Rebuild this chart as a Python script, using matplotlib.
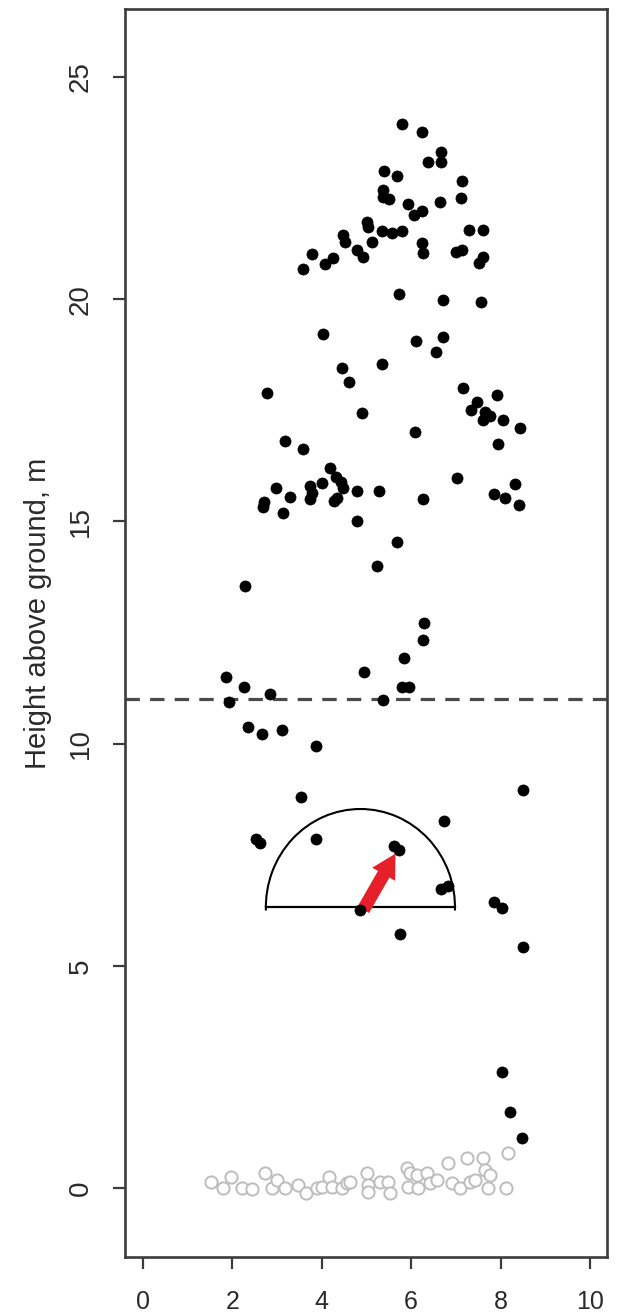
import matplotlib
matplotlib.use("Agg")
import matplotlib.pyplot as plt
from matplotlib.patches import Arc, FancyArrowPatch

# ---- data ----
tree_x = [5.79, 6.24, 6.67, 6.67, 6.38, 5.39, 5.68, 7.14, 7.11, 5.37, 5.37, 5.50, 5.93, 6.24,
          6.06, 6.64, 5.35, 5.57, 5.79, 5.12, 7.29, 7.61, 6.24, 6.26, 7.00, 7.14, 7.61, 7.52,
          5.73, 6.71, 7.56, 6.11, 6.71, 6.55, 5.01, 5.03, 4.47, 4.52, 4.79, 4.92, 3.78, 4.25,
          4.07, 3.58, 4.03, 4.45, 4.61, 5.35, 2.77, 4.90, 3.18, 3.58, 4.18, 2.98, 3.29, 2.71,
          2.68, 3.13, 3.74, 3.78, 3.74, 4.00, 4.32, 4.43, 4.47, 4.27, 4.34, 4.79, 5.28, 4.79,
          5.23, 2.28, 7.16, 7.92, 7.47, 7.34, 7.65, 7.76, 7.61, 8.05, 8.43, 7.94, 6.09, 7.02,
          6.26, 8.32, 7.85, 8.10, 8.41, 5.68, 4.94, 1.86, 2.26, 2.84, 1.92, 2.35, 2.66, 3.11,
          3.87, 6.29, 6.26, 5.84, 5.80, 5.95, 5.37, 3.53, 8.50, 2.53, 2.62, 3.87, 6.73, 5.62,
          5.73, 6.67, 6.82, 7.85, 8.03, 4.85, 5.75, 8.50, 8.03, 8.21, 8.48]
tree_y = [23.94, 23.76, 23.31, 23.09, 23.09, 22.88, 22.77, 22.66, 22.28, 22.46, 22.30, 22.25,
          22.14, 21.98, 21.89, 22.19, 21.53, 21.49, 21.53, 21.29, 21.56, 21.56, 21.26, 21.04,
          21.06, 21.11, 20.95, 20.81, 20.12, 19.98, 19.94, 19.06, 19.15, 18.81, 21.74, 21.62,
          21.44, 21.29, 21.11, 20.95, 21.02, 20.93, 20.79, 20.68, 19.22, 18.45, 18.14, 18.54,
          17.89, 17.44, 16.81, 16.63, 16.20, 15.75, 15.55, 15.44, 15.32, 15.19, 15.80, 15.64,
          15.50, 15.86, 16.00, 15.89, 15.75, 15.46, 15.53, 15.68, 15.68, 15.01, 14.00, 13.55,
          18.00, 17.84, 17.69, 17.51, 17.46, 17.37, 17.28, 17.28, 17.10, 16.74, 17.01, 15.98,
          15.50, 15.84, 15.62, 15.53, 15.37, 14.54, 11.61, 11.50, 11.27, 11.12, 10.94, 10.37,
          10.22, 10.31, 9.95, 12.71, 12.33, 11.93, 11.27, 11.27, 10.98, 8.80, 8.96, 7.85,
          7.76, 7.85, 8.26, 7.69, 7.60, 6.73, 6.80, 6.44, 6.30, 6.26, 5.72, 5.42, 2.61,
          1.71, 1.13]

ground_x = [1.52, 1.79, 1.97, 2.21, 2.44, 2.73, 2.89, 3.00, 3.18, 3.47, 3.65, 3.89, 4.00,
            4.16, 4.23, 4.45, 4.56, 4.63, 5.01, 5.03, 5.03, 5.30, 5.48, 5.53, 5.91, 5.97,
            5.93, 6.13, 6.15, 6.35, 6.42, 6.58, 6.82, 6.91, 7.09, 7.25, 7.32, 7.43, 7.61,
            7.65, 7.76, 7.72, 8.17, 8.12]
ground_y = [0.14, 0.00, 0.25, 0.00, -0.02, 0.34, 0.00, 0.18, 0.00, 0.07, -0.11, 0.00, 0.02,
            0.25, 0.02, 0.00, 0.11, 0.14, 0.34, 0.07, -0.09, 0.14, 0.14, -0.11, 0.45, 0.34,
            0.02, 0.29, 0.00, 0.34, 0.11, 0.18, 0.56, 0.11, 0.00, 0.68, 0.14, 0.18, 0.68,
            0.41, 0.29, 0.00, 0.79, 0.00]

threshold = 11.0
arc_center = (4.865, 6.32)
arc_radius = (2.115, 2.21)
arrow_start = (4.90, 6.21)
arrow_end = (5.68, 7.58)

x_ticks = [0, 2, 4, 6, 8, 10]
y_ticks = [0, 5, 10, 15, 20, 25]
y_label = "Height above ground, m"

# ---- figure ----
fig = plt.figure(figsize=(6.17, 13.16), dpi=100)
ax = fig.add_axes([0.2026, 0.0448, 0.7812, 0.9484])
ax.set_xlim(-0.4, 10.38)
ax.set_ylim(-1.55, 26.53)

txt_color = "#2a2a2a"
spine_color = "#3c3c3c"
font = "Liberation Sans"

ax.plot(ground_x, ground_y, linestyle="none", marker="o", markersize=8.8,
        markerfacecolor="white", markeredgecolor="#bdbdbd", markeredgewidth=1.4, zorder=2)

ax.axhline(threshold, color="#4a4a4a", linewidth=2.3, dashes=(4.5, 3.2), zorder=1)

arc = Arc(arc_center, 2 * arc_radius[0], 2 * arc_radius[1], theta1=-2, theta2=182,
          color="black", linewidth=1.5, zorder=3)
ax.add_patch(arc)
ax.plot([arc_center[0] - arc_radius[0], arc_center[0] + arc_radius[0]],
        [arc_center[1], arc_center[1]], color="black", linewidth=1.6, zorder=3)

arrow = FancyArrowPatch(arrow_start, arrow_end,
                        arrowstyle="simple,head_length=0.9,head_width=1.0,tail_width=0.5",
                        mutation_scale=19, color="#e5202a", linewidth=0, zorder=3.5)
ax.add_patch(arrow)

ax.plot(tree_x, tree_y, linestyle="none", marker="o", markersize=8,
        markerfacecolor="black", markeredgecolor="black", markeredgewidth=0.5, zorder=4)

for sp in ax.spines.values():
    sp.set_color(spine_color)
    sp.set_linewidth(1.9)

ax.set_xticks(x_ticks)
ax.set_yticks(y_ticks)
ax.set_xticklabels([str(t) for t in x_ticks], fontsize=18, family=font, color=txt_color)
ax.set_yticklabels([str(t) for t in y_ticks], fontsize=20, family=font, color=txt_color,
                   rotation=90, va="center")
ax.tick_params(axis="both", direction="out", length=8.5, width=1.6, color=spine_color)
ax.tick_params(axis="x", pad=15)
ax.tick_params(axis="y", pad=14)

ax.set_ylabel(y_label, fontsize=21, family=font, color=txt_color, labelpad=12)
ax.yaxis.set_label_coords(-0.152, 0.516)

fig.savefig("out.png", dpi=100, facecolor="white")
